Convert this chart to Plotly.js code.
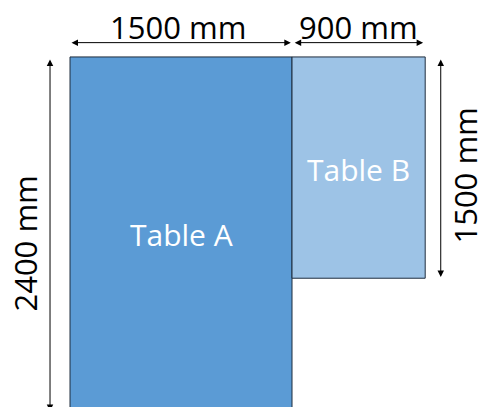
<!DOCTYPE html>
<html>
<head>
<meta charset="utf-8">
<script src="https://cdn.plot.ly/plotly-3.0.1.min.js"></script>
<style>html,body{margin:0;padding:0;background:#fff;}#chart{width:481px;height:407px;}</style>
</head>
<body>
<div id="chart"></div>
<script>
// Table data (mm)
const tableNames = ['Table A', 'Table B'];
const tableX0 = [0, 1500];
const tableWidths = [1500, 900];
const tableHeights = [2400, 1500];
const tableColors = ['#5B9BD5', '#9DC3E6'];

// Dimension labels
const widthLabels = ['1500 mm', '900 mm'];
const heightLabels = ['2400 mm', '1500 mm'];

const shapes = tableNames.map((n, i) => ({
  type: 'rect', xref: 'x', yref: 'y',
  x0: tableX0[i], x1: tableX0[i] + tableWidths[i],
  y0: 0, y1: tableHeights[i],
  fillcolor: tableColors[i],
  line: {color: '#1F2D3D', width: 1},
  layer: 'below'
}));

const FONT = 'Open Sans, Noto Sans, sans-serif';
const annotations = [];

// table labels
tableNames.forEach((n, i) => {
  annotations.push({
    x: tableX0[i] + tableWidths[i] / 2,
    y: tableHeights[i] / 2 + (i === 0 ? 5 : 10),
    xref: 'x', yref: 'y', text: n, showarrow: false,
    font: {family: FONT, size: 30, color: '#ffffff'}
  });
});

// horizontal dimension arrows + labels
const topArrowY = -97;
tableNames.forEach((n, i) => {
  const a = tableX0[i], b = tableX0[i] + tableWidths[i];
  annotations.push({
    x: b - (i === 0 ? 8 : 14), y: topArrowY, ax: a + (i === 0 ? 0 : 8), ay: topArrowY,
    xref: 'x', yref: 'y', axref: 'x', ayref: 'y',
    text: '', showarrow: true, arrowside: 'end+start',
    arrowhead: 2, arrowsize: 1.3, arrowwidth: 1, arrowcolor: '#000', standoff: 0, startstandoff: 0
  });
  annotations.push({
    x: (a + b) / 2 + (i === 0 ? -20 : 0), y: -200, xref: 'x', yref: 'y',
    text: widthLabels[i], showarrow: false,
    font: {family: FONT, size: 31, color: '#000'}
  });
});

// vertical dimension arrows + labels
const vArrowX = [-135, 2505];
const vLabelX = [-304, 2668];
const vLabelY = [1265, 805];
tableNames.forEach((n, i) => {
  annotations.push({
    x: vArrowX[i], y: tableHeights[i] - (i === 0 ? 0 : 8), ax: vArrowX[i], ay: 8,
    xref: 'x', yref: 'y', axref: 'x', ayref: 'y',
    text: '', showarrow: true, arrowside: 'end+start',
    arrowhead: 2, arrowsize: 1.3, arrowwidth: 1, arrowcolor: '#000', standoff: 0, startstandoff: 0
  });
  annotations.push({
    x: vLabelX[i], y: vLabelY[i], xref: 'x', yref: 'y',
    text: heightLabels[i], showarrow: false, textangle: -90,
    font: {family: FONT, size: 31, color: '#000'}
  });
});

const layout = {
  width: 481, height: 407,
  margin: {l: 0, r: 0, t: 0, b: 0},
  paper_bgcolor: '#ffffff', plot_bgcolor: '#ffffff',
  xaxis: {range: [-473, 2777], visible: false, fixedrange: true},
  yaxis: {range: [2373, -386], visible: false, fixedrange: true},
  shapes: shapes,
  annotations: annotations,
  showlegend: false
};

Plotly.newPlot('chart', [{x: [], y: [], type: 'scatter', hoverinfo: 'skip'}], layout, {staticPlot: true, displayModeBar: false});
</script>
</body>
</html>
